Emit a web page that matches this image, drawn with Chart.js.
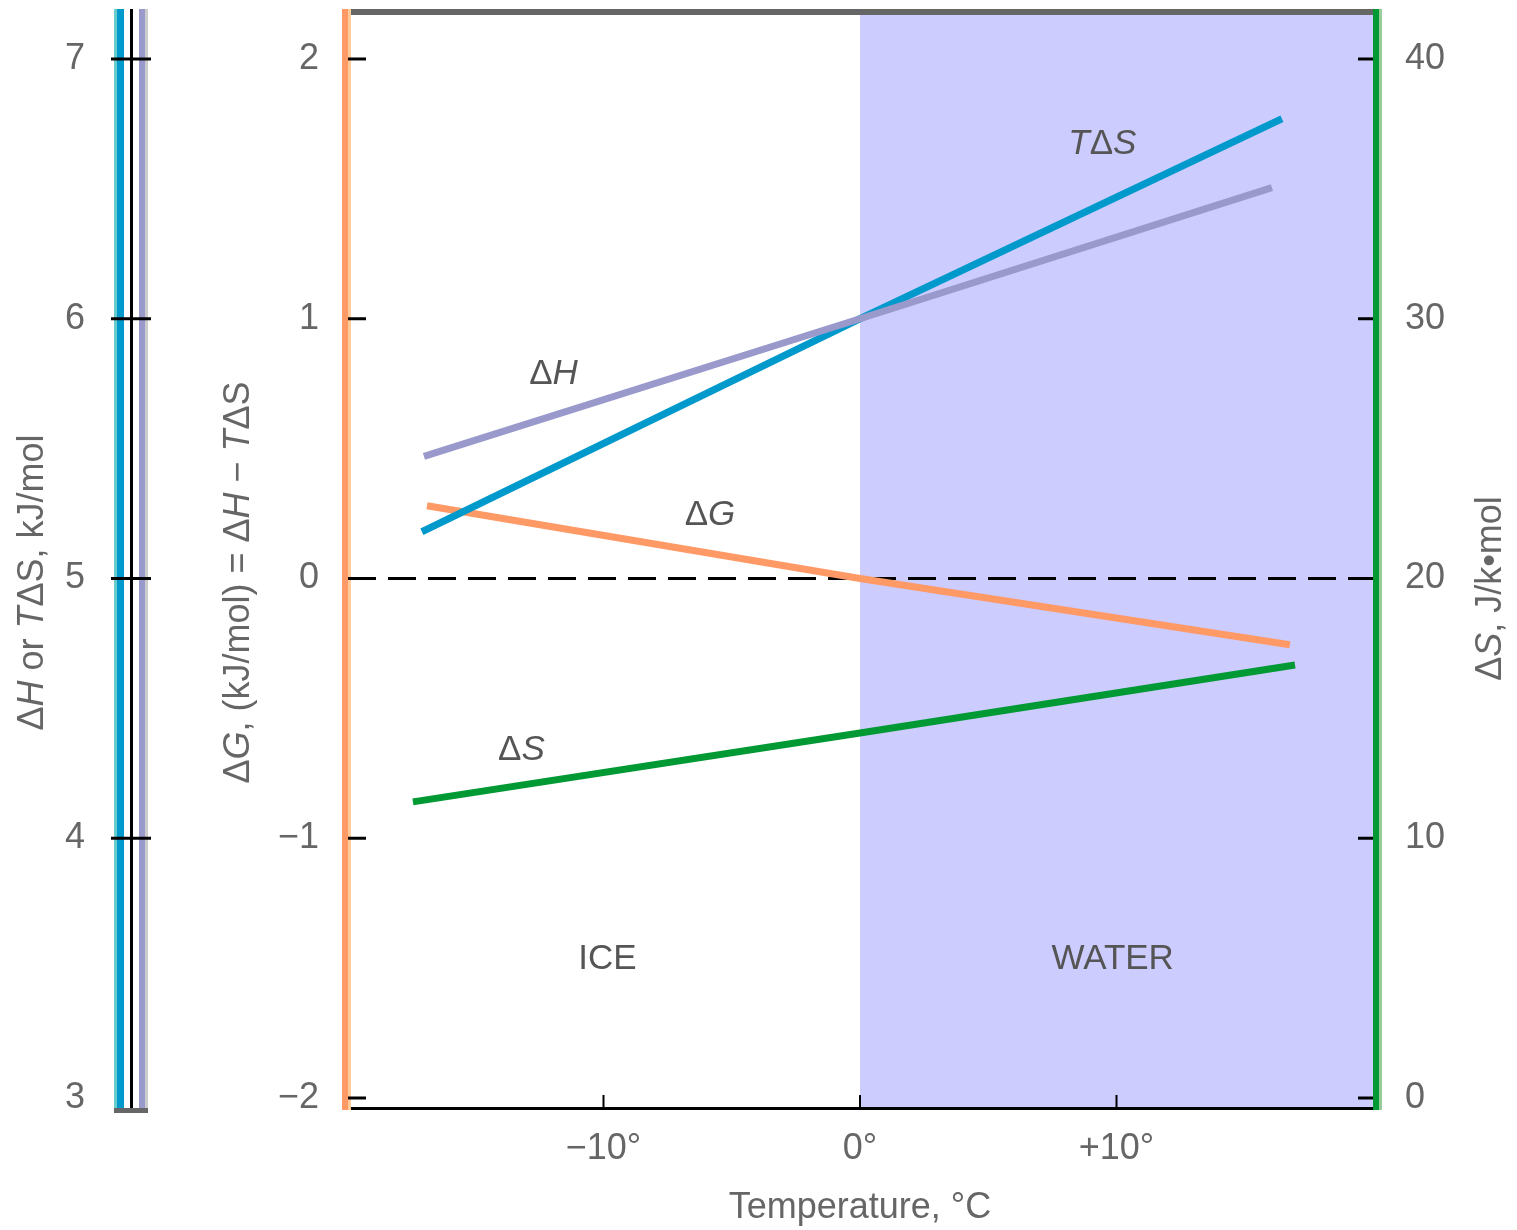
<!DOCTYPE html>
<html><head><meta charset="utf-8">
<script src="https://cdn.jsdelivr.net/npm/chart.js@4.4.1/dist/chart.umd.min.js"></script>
<style>html,body{margin:0;padding:0;background:#fff}#wrap{width:1517px;height:1230px}</style>
</head><body><div id="wrap"><canvas id="c" width="1517" height="1230"></canvas></div>
<script>
// ---- data ----
const temperature_dH  = [-17.0, 0, 16.06];
const dH              = [5.47, 6.0, 6.505];
const temperature_TdS = [-17.08, 0, 16.45];
const TdS             = [5.18, 6.0, 6.77];
const temperature_dG  = [-16.88, 0, 16.76];
const dG              = [0.28, 0.0, -0.255];
const temperature_dS  = [-17.43, 0, 16.96];
const dS              = [11.4, 14.05, 16.67];

const xTicks = [-10, 0, 10];
const gTicks = [-2, -1, 0, 1, 2];
const hTicks = [3, 4, 5, 6, 7];
const sTicks = [0, 10, 20, 30, 40];
const waterFrom = 0;   // melting point, °C

// annotation texts and data positions (x in °C, y on ΔG scale)
const notes = [
  {segs:[['Δ'],['H',1]],         x:-11.95, y:0.80},
  {segs:[['T',1],['Δ'],['S',1]], x:9.45,   y:1.685},
  {segs:[['Δ'],['G',1]],         x:-5.85,  y:0.255},
  {segs:[['Δ'],['S',1]],         x:-13.2,  y:-0.65},
  {segs:[['ICE']],               x:-9.85,  y:-1.455},
  {segs:[['WATER']],             x:9.85,   y:-1.455}
];

const FONT = '"Liberation Sans", Arial, sans-serif';
Chart.defaults.font.family = FONT;
Chart.defaults.font.size = 36;
Chart.defaults.color = '#666666';

const G_MIN = -2.0385, G_MAX = 2.1886;

function pts(xs, ys){ return xs.map((x,i)=>({x:x, y:ys[i]})); }
function fixTicks(vals){ return s => { s.ticks = vals.map(v=>({value:v})); }; }
function fitW(w){ return s => { s.width = w; s.paddingTop=0; s.paddingBottom=0; s.paddingLeft=0; s.paddingRight=0; }; }
function minus(v){ return (v<0?'\u2212':'') + Math.abs(v); }

function drawRich(ctx, segs, x, y, rot, size, color){
  ctx.save();
  ctx.translate(x, y);
  ctx.rotate(rot);
  ctx.textBaseline = 'alphabetic';
  ctx.textAlign = 'left';
  ctx.fillStyle = color;
  let total = 0;
  const ws = segs.map(s=>{ ctx.font = (s[1]?'italic ':'') + size + 'px ' + FONT; const w = ctx.measureText(s[0]).width; total += w; return w; });
  let cx = -total/2;
  segs.forEach((s,i)=>{ ctx.font = (s[1]?'italic ':'') + size + 'px ' + FONT; ctx.fillText(s[0], cx, 0); cx += ws[i]; });
  ctx.restore();
}

const deco = {
  id:'deco',
  beforeDatasetsDraw(chart){
    const {ctx, chartArea:a, scales:{x, yG}} = chart;
    ctx.save();
    const x0 = x.getPixelForValue(waterFrom);
    ctx.fillStyle = '#ccccff';
    ctx.fillRect(x0, a.top, a.right - x0, a.bottom - a.top);
    const yz = yG.getPixelForValue(0);
    ctx.strokeStyle = '#000'; ctx.lineWidth = 3; ctx.setLineDash([28,12]);
    ctx.beginPath(); ctx.moveTo(a.left+1, yz); ctx.lineTo(a.right, yz); ctx.stroke();
    ctx.restore();
  },
  afterDatasetsDraw(chart){
    const {ctx, chartArea:a, scales:{x, yG, yH, yS}} = chart;
    const h = a.bottom - a.top + 3;
    ctx.save();
    // frame
    ctx.fillStyle = '#666666'; ctx.fillRect(a.left, a.top-1, a.right-a.left, 6);
    ctx.fillStyle = '#000000'; ctx.fillRect(a.left, a.bottom-1, a.right-a.left, 3);
    ctx.fillStyle = '#ff9966'; ctx.fillRect(a.left-5, a.top-1, 6, h);
    ctx.fillStyle = '#ffcc99'; ctx.fillRect(a.left+1, a.top-1, 3, h);
    ctx.fillStyle = '#009933'; ctx.fillRect(a.right, a.top-1, 6, h);
    ctx.fillStyle = '#99cc99'; ctx.fillRect(a.right+6, a.top-1, 3, h);
    // ticks
    ctx.strokeStyle = '#000'; ctx.lineWidth = 3;
    yG.ticks.forEach(t=>{ const p = yG.getPixelForValue(t.value); ctx.beginPath(); ctx.moveTo(a.left+1,p); ctx.lineTo(a.left+19,p); ctx.stroke(); });
    yS.ticks.forEach(t=>{ const p = yS.getPixelForValue(t.value); ctx.beginPath(); ctx.moveTo(a.right-15,p); ctx.lineTo(a.right,p); ctx.stroke(); });
    ctx.lineWidth = 2;
    x.ticks.forEach(t=>{ const p = x.getPixelForValue(t.value); ctx.beginPath(); ctx.moveTo(p,a.bottom); ctx.lineTo(p,a.bottom-13); ctx.stroke(); });
    // left ΔH / TΔS axis
    const r = yH.right;
    ctx.fillStyle = '#66cccc'; ctx.fillRect(r-36, a.top-1, 3, h);
    ctx.fillStyle = '#0099cc'; ctx.fillRect(r-33, a.top-1, 7, h);
    ctx.fillStyle = '#000000'; ctx.fillRect(r-20, a.top-1, 3, h);
    ctx.fillStyle = '#9999cc'; ctx.fillRect(r-11, a.top-1, 6, h);
    ctx.fillStyle = '#cccccc'; ctx.fillRect(r-5, a.top-1, 3, h);
    ctx.fillStyle = '#666666'; ctx.fillRect(r-36, a.bottom, 34, 5);
    ctx.strokeStyle = '#000'; ctx.lineWidth = 3;
    yH.ticks.forEach((t,i)=>{ if (i === 0) return; const p = yH.getPixelForValue(t.value); ctx.beginPath(); ctx.moveTo(r-39,p); ctx.lineTo(r+1,p); ctx.stroke(); });
    ctx.restore();
    // annotations
    notes.forEach(n=>{
      drawRich(ctx, n.segs, x.getPixelForValue(n.x), yG.getPixelForValue(n.y)+13, 0, 35, '#555555');
    });
    // axis titles
    const mid = yG.getPixelForValue(0) + 4;
    drawRich(ctx, [['Δ'],['H',1],[' or '],['T',1],['ΔS, kJ/mol']], yH.left+43, mid, -Math.PI/2, 36, '#666666');
    drawRich(ctx, [['Δ'],['G',1],[', (kJ/mol) = Δ'],['H',1],[' \u2212 '],['T',1],['ΔS']], yG.left+99, mid, -Math.PI/2, 36, '#666666');
    drawRich(ctx, [['Δ'],['S',1],[', J/k\u2022mol']], yS.left+128, mid+6, -Math.PI/2, 36, '#666666');
    drawRich(ctx, [['Temperature, °C']], (a.left+a.right)/2, a.bottom+110, 0, 36, '#666666');
  }
};

const lineDs = (label, xs, ys, axis, color) => ({
  label, data: pts(xs, ys), yAxisID: axis, borderColor: color, backgroundColor: color,
  borderWidth: 7, pointRadius: 0, tension: 0, borderCapStyle: 'butt', fill: false
});

new Chart(document.getElementById('c'), {
  type: 'line',
  data: { datasets: [
    lineDs('ΔH',  temperature_dH,  dH,  'yH', '#9999cc'),
    lineDs('TΔS', temperature_TdS, TdS, 'yH', '#0099cc'),
    lineDs('ΔG',  temperature_dG,  dG,  'yG', '#ff9966'),
    lineDs('ΔS',  temperature_dS,  dS,  'yS', '#009933')
  ]},
  options: {
    responsive: false, animation: false,
    layout: { padding: { top: 10, left: 0, right: 0, bottom: 0 } },
    plugins: { legend: { display: false }, tooltip: { enabled: false } },
    scales: {
      x: { type: 'linear', position: 'bottom', min: -20, max: 20, bounds: 'data',
           grid: { display: false }, border: { display: false },
           afterBuildTicks: fixTicks(xTicks),
           afterFit: s => { s.height = 122; s.paddingLeft=0; s.paddingRight=0; s.paddingTop=0; s.paddingBottom=0; },
           ticks: { padding: 11, maxRotation: 0, autoSkip: false,
                    callback: v => (v>0?'+':v<0?'\u2212':'') + Math.abs(v) + '°' } },
      yH: { type: 'linear', position: 'left', weight: 10, min: G_MIN+5, max: G_MAX+5, bounds: 'data',
            grid: { display: false }, border: { display: false },
            afterBuildTicks: fixTicks(hTicks), afterFit: fitW(150),
            ticks: { padding: 57, callback: v => minus(v) } },
      yG: { type: 'linear', position: 'left', weight: 1, min: G_MIN, max: G_MAX, bounds: 'data',
            grid: { display: false }, border: { display: false },
            afterBuildTicks: fixTicks(gTicks), afterFit: fitW(197),
            ticks: { padding: 20, callback: v => minus(v) } },
      yS: { type: 'linear', position: 'right', min: (G_MIN+2)*10, max: (G_MAX+2)*10, bounds: 'data',
            grid: { display: false }, border: { display: false },
            afterBuildTicks: fixTicks(sTicks), afterFit: fitW(144),
            ticks: { padding: 24, callback: v => minus(v) } }
    }
  },
  plugins: [deco]
});
</script></body></html>
